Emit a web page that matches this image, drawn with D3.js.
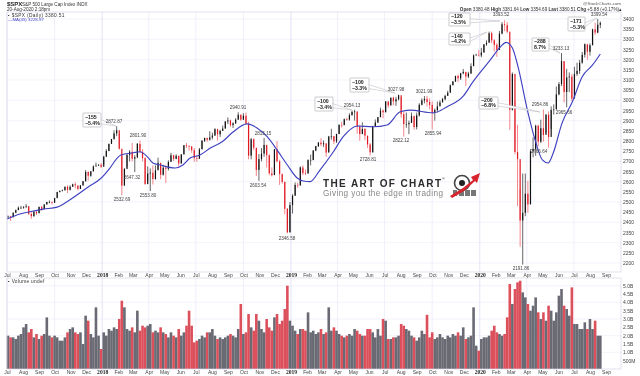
<!DOCTYPE html>
<html>
<head>
<meta charset="utf-8">
<script src="https://cdn.jsdelivr.net/npm/d3@7"></script>
<style>
    html, body { margin: 0; background: #fff; }
    svg { display: block; filter: blur(0.3px); }
    text { font-family: "Liberation Sans", sans-serif; fill: #333; }
    .tick text { font-size: 5px; fill: #444; }
    .peak { font-size: 4.6px; fill: #444; text-anchor: middle; }
</style>
</head>
<body>
<div id="chart"></div>
<script>
const height = 376
const width = 640
const margins = { top: 12, left: 7, right: 19 }
const mainBottom = 272
const volTop = 278
const volBottom = 369

// one bar every 5 calendar days, starting 3 Jul 2017
const closes = [
    2429, 2425, 2447, 2460, 2472, 2472,
    2477, 2480, 2441, 2430, 2452, 2444,
    2476, 2465, 2488, 2500, 2500, 2497,
    2519, 2549, 2555, 2557, 2575, 2560,
    2575, 2587, 2582, 2564, 2582, 2602,
    2648, 2629, 2651, 2675, 2679, 2683,
    2673, 2723, 2751, 2786, 2810, 2837,
    2853, 2762, 2581, 2662, 2732, 2747,
    2713, 2720, 2786, 2747, 2716, 2588,
    2640, 2644, 2613, 2656, 2693, 2634,
    2669, 2663, 2697, 2730, 2712, 2727,
    2689, 2734, 2779, 2775, 2773, 2755,
    2716, 2713, 2759, 2801, 2815, 2806,
    2818, 2827, 2858, 2833, 2850, 2861,
    2896, 2901, 2878, 2887, 2905, 2929,
    2905, 2924, 2885, 2728, 2809, 2767,
    2658, 2711, 2738, 2781, 2730, 2641,
    2632, 2760, 2700, 2637, 2599, 2467,
    2351, 2485, 2531, 2584, 2582, 2670,
    2642, 2640, 2706, 2707, 2753, 2775,
    2792, 2784, 2789, 2743, 2822, 2824,
    2798, 2834, 2879, 2878, 2907, 2905,
    2927, 2943, 2945, 2870, 2834, 2859,
    2826, 2783, 2744, 2873, 2891, 2917,
    2950, 2941, 2995, 2975, 3013, 2995,
    3005, 3025, 2932, 2883, 2883, 2889,
    2922, 2869, 2926, 2978, 3000, 3007,
    2992, 2977, 2940, 2952, 2970, 2990,
    3006, 3022, 3037, 3074, 3093, 3120,
    3108, 3133, 3140, 3117, 3132, 3168,
    3221, 3224, 3221, 3235, 3275, 3283,
    3330, 3295, 3273, 3248, 3328, 3374,
    3370, 3338, 2954, 3130, 2746, 2711,
    2409, 2447, 2541, 2488, 2749, 2761,
    2875, 2797, 2863, 2830, 2929, 2820,
    2953, 2955, 3029, 3080, 3193, 3041,
    3113, 3117, 3009, 3130, 3145, 3185,
    3224, 3276, 3239, 3271, 3349, 3333,
    3372, 3380
]
const highs = [
    2434, 2432, 2449, 2463, 2478, 2481,
    2478, 2490, 2475, 2450, 2456, 2454,
    2477, 2480, 2489, 2501, 2508, 2504,
    2520, 2550, 2556, 2561, 2576, 2582,
    2582, 2590, 2597, 2578, 2583, 2604,
    2657, 2650, 2652, 2680, 2694, 2686,
    2692, 2727, 2760, 2787, 2810, 2853,
    2873, 2835, 2725, 2668, 2735, 2755,
    2790, 2730, 2790, 2802, 2760, 2720,
    2675, 2665, 2680, 2680, 2718, 2683,
    2683, 2680, 2705, 2742, 2732, 2735,
    2728, 2736, 2780, 2790, 2780, 2775,
    2765, 2730, 2766, 2805, 2816, 2816,
    2848, 2841, 2863, 2860, 2855, 2876,
    2898, 2916, 2905, 2892, 2912, 2941,
    2931, 2937, 2940, 2895, 2815, 2813,
    2760, 2736, 2765, 2815, 2775, 2735,
    2670, 2760, 2800, 2708, 2640, 2600,
    2470, 2500, 2538, 2596, 2595, 2675,
    2680, 2660, 2710, 2733, 2755, 2776,
    2795, 2814, 2803, 2785, 2825, 2860,
    2825, 2836, 2882, 2894, 2910, 2915,
    2936, 2950, 2954, 2945, 2880, 2892,
    2864, 2826, 2790, 2875, 2906, 2918,
    2964, 2955, 2996, 2993, 3014, 3018,
    3017, 3028, 3014, 2945, 2940, 2900,
    2940, 2925, 2940, 2986, 3010, 3021,
    3022, 3010, 2995, 2960, 2994, 3000,
    3012, 3027, 3047, 3078, 3095, 3121,
    3127, 3135, 3154, 3140, 3140, 3182,
    3226, 3229, 3248, 3258, 3277, 3295,
    3338, 3338, 3300, 3282, 3341, 3385,
    3394, 3385, 3260, 3137, 2998, 2880,
    2562, 2640, 2640, 2604, 2760, 2818,
    2880, 2880, 2905, 2955, 2933, 2945,
    2970, 2980, 3068, 3090, 3233, 3192,
    3155, 3137, 3130, 3165, 3185, 3199,
    3238, 3280, 3275, 3280, 3352, 3382,
    3400, 3388
]
const lows = [
    2419, 2407, 2425, 2445, 2460, 2465,
    2467, 2470, 2437, 2417, 2428, 2436,
    2446, 2457, 2465, 2487, 2494, 2488,
    2495, 2520, 2547, 2552, 2558, 2544,
    2557, 2575, 2566, 2557, 2564, 2580,
    2601, 2605, 2624, 2650, 2675, 2678,
    2668, 2683, 2722, 2750, 2786, 2807,
    2824, 2758, 2533, 2580, 2670, 2700,
    2700, 2647, 2715, 2740, 2700, 2585,
    2604, 2554, 2586, 2610, 2660, 2612,
    2630, 2594, 2655, 2700, 2702, 2710,
    2676, 2690, 2734, 2765, 2752, 2742,
    2698, 2698, 2712, 2760, 2795, 2796,
    2802, 2808, 2825, 2802, 2820, 2850,
    2862, 2883, 2870, 2864, 2884, 2904,
    2900, 2904, 2880, 2710, 2710, 2755,
    2628, 2604, 2700, 2722, 2670, 2632,
    2625, 2640, 2695, 2584, 2590, 2440,
    2346, 2350, 2443, 2530, 2570, 2580,
    2632, 2632, 2640, 2680, 2705, 2750,
    2770, 2775, 2770, 2722, 2745, 2806,
    2785, 2790, 2835, 2866, 2878, 2900,
    2900, 2925, 2900, 2836, 2801, 2834,
    2805, 2766, 2729, 2744, 2870, 2888,
    2917, 2912, 2942, 2963, 2975, 2976,
    2973, 3000, 2914, 2822, 2865, 2834,
    2891, 2856, 2857, 2920, 2975, 2985,
    2970, 2955, 2856, 2900, 2940, 2975,
    2990, 3000, 3023, 3040, 3074, 3090,
    3090, 3100, 3128, 3070, 3110, 3130,
    3170, 3220, 3215, 3212, 3235, 3268,
    3285, 3281, 3240, 3214, 3248, 3325,
    3340, 3330, 2855, 2950, 2734, 2480,
    2280, 2192, 2430, 2447, 2490, 2720,
    2727, 2775, 2790, 2797, 2840, 2767,
    2860, 2930, 2960, 3025, 3070, 2990,
    2966, 3040, 2997, 3010, 3120, 3130,
    3180, 3210, 3200, 3220, 3271, 3322,
    3330, 3355
]
// billions of shares
const volumes = [
    2.0, 1.9, 1.9, 1.8, 2.0, 2.1,
    2.5, 2.7, 2.2, 2.4, 1.9, 2.1,
    1.8, 2.0, 2.1, 3.1, 2.0, 1.9,
    2.0, 1.9, 1.7, 1.7, 1.9, 2.2,
    2.4, 2.5, 2.2, 2.1, 2.2, 1.5,
    3.2, 2.9, 2.1, 1.9, 3.7, 2.0,
    1.2, 2.2, 2.0, 2.4, 2.3, 2.5,
    2.4, 3.0, 4.1, 3.7, 2.4, 2.3,
    2.5, 2.2, 3.5, 2.3, 2.6, 2.5,
    2.6, 2.7, 2.2, 2.3, 2.2, 2.5,
    2.2, 2.1, 1.9, 2.2, 2.0, 1.9,
    2.4, 2.0, 2.2, 2.6, 3.5, 2.6,
    1.6, 1.7, 1.8, 2.0, 1.9, 2.2,
    2.2, 2.4, 2.0, 1.8, 1.9, 1.8,
    1.9, 2.0, 2.1, 2.0, 1.9, 2.4,
    3.9, 2.1, 2.2, 3.3, 2.5, 2.3,
    3.3, 2.9, 2.4, 2.2, 3.0, 2.5,
    2.3, 3.1, 3.3, 2.7, 2.9, 3.6,
    5.0, 2.9, 2.6, 2.3, 2.1, 2.4,
    2.4, 2.3, 3.4, 2.2, 2.3, 2.1,
    2.2, 2.4, 2.1, 2.2, 3.7, 2.3,
    2.5, 2.3, 2.1, 2.0, 1.9, 2.0,
    2.1, 2.0, 2.4, 2.3, 2.1, 2.0,
    2.0, 2.4, 2.4, 2.2, 1.9, 2.4,
    2.0, 3.0, 2.9, 1.8, 1.8, 1.9,
    1.9, 2.0, 2.7, 2.6, 2.4, 2.3,
    2.0, 1.9, 1.7, 1.9, 2.3, 2.1,
    3.25, 1.9, 2.2, 1.8, 1.9, 2.1,
    1.9, 1.8, 2.0, 1.9, 2.1, 2.0,
    2.2, 2.0, 2.5, 1.8, 1.9, 2.0,
    3.7, 1.4, 1.1, 1.8, 1.9, 1.9,
    2.0, 2.3, 2.6, 2.2, 2.1, 2.0,
    2.1, 3.1, 5.1, 3.9, 4.8, 5.2,
    5.3, 4.6, 4.3, 3.9, 3.5, 3.8,
    4.3, 3.4, 3.0, 3.4, 2.9, 3.8,
    3.5, 2.9, 3.4, 4.4, 4.8, 3.8,
    3.6, 3.2, 4.9, 2.7, 2.7, 2.4,
    2.4, 2.8, 2.4, 3.0, 2.4, 2.9,
    2.0, 2.0
]

const maDates = [
    '2017-07-01', '2017-07-26', '2017-08-14', '2017-09-09', '2017-10-06', '2017-10-25', '2017-11-13', '2017-12-05', '2017-12-28',
    '2018-01-16', '2018-01-30', '2018-02-06', '2018-03-02', '2018-03-15', '2018-03-29', '2018-04-09', '2018-04-23', '2018-05-22',
    '2018-06-06', '2018-06-20', '2018-07-09', '2018-07-29', '2018-08-21', '2018-09-11', '2018-10-08', '2018-10-28', '2018-11-16',
    '2018-12-05', '2018-12-25', '2019-01-13', '2019-01-25', '2019-02-07', '2019-02-26', '2019-03-24', '2019-04-12', '2019-05-09',
    '2019-06-09', '2019-07-06', '2019-07-31', '2019-08-19', '2019-10-03', '2019-10-30', '2019-11-30', '2019-12-19', '2020-01-21',
    '2020-02-10', '2020-02-21', '2020-03-04', '2020-03-15', '2020-04-02', '2020-04-17', '2020-05-01', '2020-05-12', '2020-05-22',
    '2020-06-08', '2020-06-28', '2020-07-17', '2020-08-06', '2020-08-21'
]
const maValues = [
    2416, 2441, 2452, 2465, 2475, 2501, 2534, 2574, 2613,
    2667, 2716, 2731, 2742, 2747, 2723, 2692, 2682, 2667,
    2682, 2716, 2731, 2765, 2796, 2844, 2884, 2863, 2821,
    2756, 2682, 2618, 2603, 2600, 2657, 2747, 2821, 2874,
    2870, 2879, 2944, 2952, 2938, 2969, 3021, 3092, 3198,
    3263, 3285, 3257, 3165, 2952, 2805, 2707, 2692, 2741,
    2888, 2993, 3116, 3174, 3228
]

const monthLabels = ['Jul', 'Aug', 'Sep', 'Oct', 'Nov', 'Dec', '2018', 'Feb', 'Mar', 'Apr', 'May', 'Jun',
    'Jul', 'Aug', 'Sep', 'Oct', 'Nov', 'Dec', '2019', 'Feb', 'Mar', 'Apr', 'May', 'Jun',
    'Jul', 'Aug', 'Sep', 'Oct', 'Nov', 'Dec', '2020', 'Feb', 'Mar', 'Apr', 'May', 'Jun',
    'Jul', 'Aug', 'Sep']
const priceTicks = [2200, 2250, 2300, 2350, 2400, 2450, 2500, 2550, 2600, 2650, 2700, 2750, 2800,
    2850, 2900, 2950, 3000, 3050, 3100, 3150, 3200, 3250, 3300, 3350, 3400]
const volumeTicks = [0.5, 1, 1.5, 2, 2.5, 3, 3.5, 4, 4.5, 5]

// swing highs and lows printed on the chart
const peakLabels = ['2872.87', '2801.90', '2647.32', '2532.69', '2553.80', '2940.91', '2815.15', '2603.54', '2346.58', '2954.13', '2728.81',
    '3027.98', '2822.12', '3021.99', '2855.94', '3393.52', '2954.86', '2965.66', '2766.64', '3233.13', '3399.54', '2191.86']
const peakLabelX = [114, 138, 132, 122, 148, 238, 263, 258, 287, 352, 368, 396, 401, 424, 433, 501, 540, 564, 539, 561, 599, 521]
const peakLabelY = [123, 137, 179, 201, 197, 109, 135, 187, 240, 107, 161, 91, 142, 93, 135, 16, 106, 114, 153, 50, 16, 270]

const boxTop = ['\u2212155', '\u2212100', '\u2212100', '\u2212140', '\u2212120', '\u2212200', '\u2212288', '\u2212171']
const boxBottom = ['\u22125.4%', '\u22123.4%', '\u22123.3%', '\u22124.2%', '\u22123.5%', '\u22126.8%', '8.7%', '\u22125.3%']
const boxX = [83, 315, 350, 449, 449, 479, 532, 568]
const boxY = [113, 97, 78, 33, 13, 97, 38, 17]
const boxW = [18, 18, 19, 21, 21, 19, 17, 17]
const boxH = [14, 14, 14, 12, 13, 12, 13, 14]
const tipX = [116, 352, 395, 487, 500, 540, 560, 597]
const tipY = [126, 110, 93, 32, 21, 112, 53, 18]

const barDates = closes.map((c, i) => d3.timeDay.offset(new Date(2017, 6, 3), i * 5))
const monthDates = monthLabels.map((m, i) => new Date(2017, 6 + i, 1))

let svg = d3.select('#chart').append('svg').attr('width', width).attr('height', height)

let x = d3.scaleTime().domain([new Date(2017, 6, 1), new Date(2020, 8, 1)]).range([margins.left, 606])
let y = d3.scaleLinear().domain([2200, 3400]).range([263, 19])
let yVol = d3.scaleLinear().domain([0, 5]).range([volBottom, 285.7])
const right = width - margins.right

// grid
let gridGroup = svg.append('g').attr('id', 'gridGroup')
gridGroup.selectAll('line.h').data(priceTicks.filter((d, i) => i % 2 === 0)).join('line')
    .attr('class', 'h')
    .attr('x1', margins.left).attr('x2', right)
    .attr('y1', d => y(d)).attr('y2', d => y(d))
    .attr('stroke', '#eeeefa').attr('stroke-width', 0.7)
gridGroup.selectAll('line.hv').data(volumeTicks.filter(d => d % 1 === 0)).join('line')
    .attr('class', 'hv')
    .attr('x1', margins.left).attr('x2', right)
    .attr('y1', d => yVol(d)).attr('y2', d => yVol(d))
    .attr('stroke', '#eeeefa').attr('stroke-width', 0.7)
gridGroup.selectAll('g.v').data(monthDates.filter((d, i) => i % 3 === 0)).join('g').attr('class', 'v').each(function(d) {
    let strong = d.getMonth() === 0
    d3.select(this).selectAll('line').data([[margins.top, mainBottom], [volTop, volBottom]]).join('line')
        .attr('x1', x(d)).attr('x2', x(d))
        .attr('y1', r => r[0]).attr('y2', r => r[1])
        .attr('stroke', strong ? '#dcdcf4' : '#ebebfa').attr('stroke-width', 0.8)
})

// volume
svg.append('g').attr('id', 'volumeGroup').selectAll('rect').data(volumes).join('rect')
    .attr('x', (d, i) => x(barDates[i]) - 1.3)
    .attr('width', 2.6)
    .attr('y', d => yVol(d))
    .attr('height', d => volBottom - yVol(d))
    .attr('fill', (d, i) => i > 0 && closes[i] < closes[i - 1] ? '#d9414e' : '#5d5d68')
    .attr('opacity', 0.92)

// price bars
let barGroup = svg.append('g').attr('id', 'barGroup')
closes.forEach((c, i) => {
    let open = i > 0 ? closes[i - 1] : c - 4
    let down = c < open
    let xPos = x(barDates[i])
    barGroup.append('line')
        .attr('x1', xPos).attr('x2', xPos)
        .attr('y1', y(highs[i])).attr('y2', y(lows[i]))
        .attr('stroke', down ? '#f0505a' : '#222').attr('stroke-width', 0.7)
    barGroup.append('rect')
        .attr('x', xPos - 0.6).attr('width', 1.2)
        .attr('y', y(Math.max(open, c)))
        .attr('height', Math.max(0.6, Math.abs(y(open) - y(c))))
        .attr('fill', down ? '#e01822' : '#111')
})

// moving average
let maLine = d3.line()
    .x((d, i) => x(new Date(maDates[i] + 'T00:00:00')))
    .y(d => y(d))
    .curve(d3.curveMonotoneX)
svg.append('path').attr('d', maLine(maValues))
    .attr('fill', 'none').attr('stroke', '#3f42c0').attr('stroke-width', 1.15)

// frames
svg.selectAll('rect.frame').data([[margins.top, mainBottom], [volTop, volBottom]]).join('rect')
    .attr('class', 'frame')
    .attr('x', margins.left).attr('y', d => d[0])
    .attr('width', right - margins.left).attr('height', d => d[1] - d[0])
    .attr('fill', 'none').attr('stroke', '#d4d4e4').attr('stroke-width', 0.7)

// axes
const monthFormat = d => monthLabels[monthDates.findIndex(m => +m === +d)]
let styleMonths = g => {
    g.select('.domain').remove()
    g.selectAll('.tick line').remove()
    g.selectAll('.tick text').attr('dy', 0).attr('y', 0)
        .filter(d => d.getMonth() === 0)
        .style('font-family', '"Liberation Serif", serif').style('font-weight', 'bold').style('font-size', '5.6px').style('fill', '#222')
}
let xAxis = d3.axisBottom(x).tickValues(monthDates).tickFormat(monthFormat).tickSizeOuter(0)
svg.append('g').attr('transform', `translate(0, ${mainBottom + 4.5})`).call(xAxis).call(styleMonths)
svg.append('g').attr('transform', `translate(0, ${volBottom + 4.5})`).call(xAxis).call(styleMonths)

let yAxis = d3.axisRight(y).tickValues(priceTicks).tickFormat(d3.format('d')).tickSize(0).tickPadding(2)
svg.append('g').attr('transform', `translate(${right}, 0)`).call(yAxis).call(g => g.select('.domain').remove())

let volAxis = d3.axisRight(yVol).tickValues(volumeTicks)
    .tickFormat(d => d < 1 ? `${d * 1000}M` : `${d.toFixed(1)}B`)
    .tickSize(0).tickPadding(2)
svg.append('g').attr('transform', `translate(${right}, 0)`).call(volAxis).call(g => g.select('.domain').remove())

// header
svg.append('text').attr('x', 7).attr('y', 6).style('font-size', '6px').style('font-weight', 'bold').style('fill', '#222').text('$SPX')
svg.append('text').attr('x', 22).attr('y', 6).style('font-size', '4.6px').text('S&P 500 Large Cap Index  INDX')
svg.append('text').attr('x', 7).attr('y', 11).style('font-size', '4.6px').text('20-Aug-2020 2:18pm')
svg.append('text').attr('x', 8).attr('y', 16.5).style('font-size', '4.8px').style('letter-spacing', '0.35px').text('\u25AA $SPX (Daily) 3380.51')
svg.append('text').attr('x', 8).attr('y', 21).style('font-size', '4.4px').style('fill', '#3f42c0').text('\u2014MA(45) 3228.97')
svg.append('text').attr('x', 8).attr('y', 283).style('font-size', '4.8px').style('letter-spacing', '0.3px').text('\u25AA Volume undef')
svg.append('text').attr('x', 621).attr('y', 4.5).attr('text-anchor', 'end').style('font-size', '4.4px').style('fill', '#555').text('@StockCharts.com')

let quote = svg.append('text').attr('x', 622).attr('y', 10.5).attr('text-anchor', 'end').style('font-size', '4.6px')
const quoteBits = [['Open', 1], [' 3380.48 ', 0], ['High', 1], [' 3381.64 ', 0], ['Low', 1], [' 3354.69 ', 0], ['Last', 1], [' 3380.51 ', 0], ['Chg', 1], [' +5.88 (+0.17%)\u25B4', 0]]
quoteBits.forEach(b => {
    quote.append('tspan').attr('font-weight', b[1] ? 'bold' : 'normal').text(b[0])
})

// watermark
svg.append('text').attr('x', 323).attr('y', 186.5).attr('textLength', 118).attr('lengthAdjust', 'spacing')
    .style('font-size', '10px').style('font-weight', 'bold').style('fill', '#2b2b2b').text('THE ART OF CHART')
svg.append('text').attr('x', 442).attr('y', 180).style('font-size', '4px').style('fill', '#444').text('\u00AE')
svg.append('text').attr('x', 323).attr('y', 196).attr('textLength', 120).attr('lengthAdjust', 'spacing')
    .style('font-size', '8.2px').style('fill', '#888').text('Giving you the edge in trading')

let logo = svg.append('g').attr('id', 'logo')
logo.append('circle').attr('cx', 462).attr('cy', 183).attr('r', 7.5).attr('fill', '#fff').attr('stroke', '#444').attr('stroke-width', 1.6)
logo.append('circle').attr('cx', 462).attr('cy', 183).attr('r', 3).attr('fill', '#222')
logo.selectAll('rect').data([[453, 4], [459, 5], [465, 5], [471, 5]]).join('rect')
    .attr('x', d => d[0]).attr('width', d => d[1]).attr('y', 190).attr('height', 6).attr('fill', '#777')
logo.append('path').attr('d', 'M450,196 L463,188 L473,180 L471,177 L480,173 L477,183 L475,181 L464,191 L452,198 Z').attr('fill', '#d8242c')

// callout boxes
let boxGroup = svg.append('g').attr('id', 'boxGroup')
boxTop.forEach((t, i) => {
    boxGroup.append('path')
        .attr('d', `M${boxX[i] + boxW[i] - 1},${boxY[i] + boxH[i] * 0.45} L${tipX[i]},${tipY[i]} L${boxX[i] + boxW[i] - 1},${boxY[i] + boxH[i] * 0.75} Z`)
        .attr('fill', '#fff').attr('stroke', '#b4b4bc').attr('stroke-width', 0.5)
    boxGroup.append('rect')
        .attr('x', boxX[i]).attr('y', boxY[i]).attr('width', boxW[i]).attr('height', boxH[i])
        .attr('fill', '#fff').attr('stroke', '#b4b4bc').attr('stroke-width', 0.7).attr('rx', 0.6)
    boxGroup.append('text').attr('x', boxX[i] + 2).attr('y', boxY[i] + boxH[i] * 0.42)
        .style('font-size', '5.2px').style('font-weight', 'bold').style('fill', '#222').text(t)
    boxGroup.append('text').attr('x', boxX[i] + 2).attr('y', boxY[i] + boxH[i] * 0.85)
        .style('font-size', '5.2px').style('font-weight', 'bold').style('fill', '#222').text(boxBottom[i])
})

// swing labels
svg.append('g').attr('id', 'peakGroup').selectAll('text').data(peakLabels).join('text')
    .attr('class', 'peak')
    .attr('x', (d, i) => peakLabelX[i])
    .attr('y', (d, i) => peakLabelY[i])
    .text(d => d)
</script>
</body>
</html>
